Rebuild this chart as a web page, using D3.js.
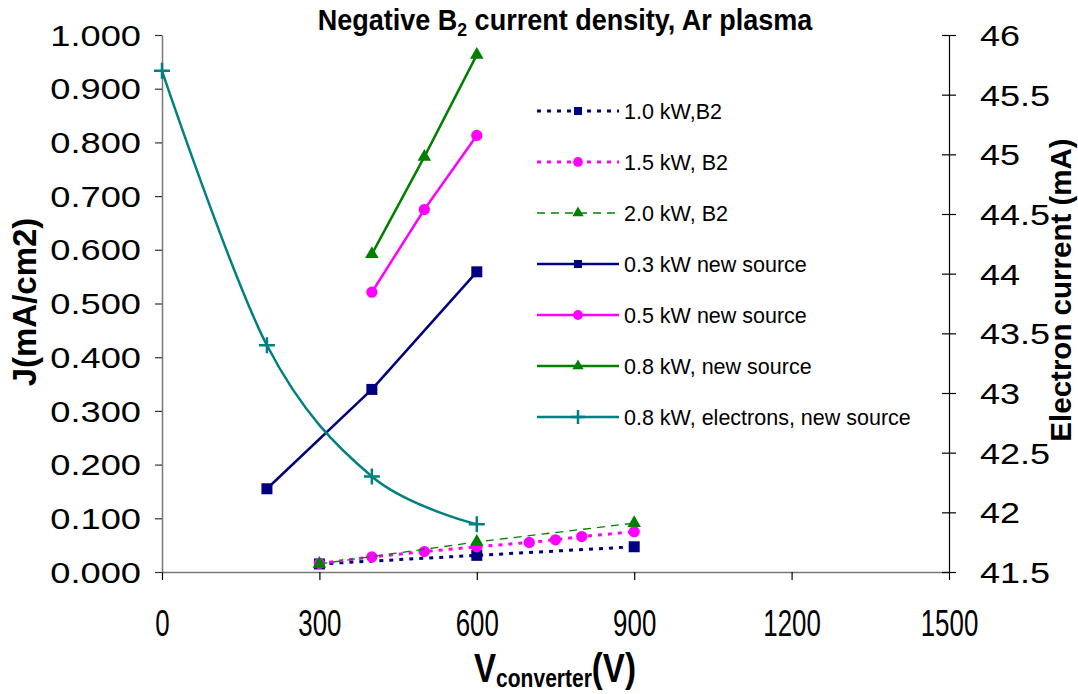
<!DOCTYPE html>
<html>
<head>
<meta charset="utf-8">
<script src="https://cdn.jsdelivr.net/npm/d3@7"></script>
<style>
  html, body { margin: 0; padding: 0; background: #fff; }
  svg { display: block; font-family: "Liberation Sans", Arial, sans-serif; }
</style>
</head>
<body>
<svg id="chart" width="1078" height="694"></svg>
<script>
// ---- data ----
const xTicks = [0, 300, 600, 900, 1200, 1500];
const yLeftTicks = [0, 0.1, 0.2, 0.3, 0.4, 0.5, 0.6, 0.7, 0.8, 0.9, 1.0];
const yRightTicks = [41.5, 42, 42.5, 43, 43.5, 44, 44.5, 45, 45.5, 46];

const vB2_10 = [300, 600, 900];
const jB2_10 = [0.015, 0.031, 0.047];
const vB2_15 = [300, 400, 500, 600, 700, 750, 800, 900];
const jB2_15 = [0.016, 0.028, 0.038, 0.047, 0.055, 0.060, 0.066, 0.075];
const vB2_20 = [300, 600, 900];
const jB2_20 = [0.015, 0.056, 0.091];
const vNew03 = [200, 400, 600];
const jNew03 = [0.155, 0.340, 0.559];
const vNew05 = [400, 500, 600];
const jNew05 = [0.521, 0.675, 0.813];
const vNew08 = [400, 500, 600];
const jNew08 = [0.592, 0.773, 0.963];
const vElec = [0, 200, 400, 600];
const iElec = [45.7, 43.4, 42.3, 41.9];

const seriesNames = [
  "1.0 kW,B2", "1.5 kW, B2", "2.0 kW, B2",
  "0.3 kW new source", "0.5 kW new source", "0.8 kW, new source",
  "0.8 kW, electrons, new source"
];

// series table: values + drawing style
const series = [
  {name: seriesNames[0], v: vB2_10, y: jB2_10, axis: "L", color: "#000080", width: 3, dash: "4,6", marker: "square"},
  {name: seriesNames[1], v: vB2_15, y: jB2_15, axis: "L", color: "#FF00FF", width: 3, dash: "4,6", marker: "circle"},
  {name: seriesNames[2], v: vB2_20, y: jB2_20, axis: "L", color: "#008000", width: 1.3, dash: "8,6", marker: "triangle"},
  {name: seriesNames[3], v: vNew03, y: jNew03, axis: "L", color: "#000080", width: 2.5, dash: null, marker: "square"},
  {name: seriesNames[4], v: vNew05, y: jNew05, axis: "L", color: "#FF00FF", width: 2.5, dash: null, marker: "circle"},
  {name: seriesNames[5], v: vNew08, y: jNew08, axis: "L", color: "#008000", width: 2.5, dash: null, marker: "triangle"},
  {name: seriesNames[6], v: vElec, y: iElec, axis: "R", color: "#008080", width: 2.5, dash: null, marker: "plus", smooth: true}
];

// ---- layout ----
const svg = d3.select("#chart");
const plot = {left: 162, right: 949, top: 35, bottom: 572};

const x = d3.scaleLinear().domain([0, 1500]).range([plot.left, plot.right]);
const yL = d3.scaleLinear().domain([0, 1]).range([plot.bottom, plot.top]);
const yR = d3.scaleLinear().domain([41.5, 46]).range([plot.bottom, plot.top]);

// ---- axes ----
const axisColor = "#777";

const gx = svg.append("g").attr("transform", `translate(0,${plot.bottom})`)
  .call(d3.axisBottom(x).tickValues(xTicks).tickSize(8).tickSizeOuter(0).tickFormat(d3.format("d")));
gx.select(".domain").attr("stroke", axisColor).attr("stroke-width", 1.5);
gx.selectAll(".tick line").attr("stroke", "#000").attr("stroke-width", 1.2);
gx.selectAll(".tick text")
  .attr("fill", "#000").attr("font-size", 37).attr("y", 0).attr("dy", 0)
  .attr("transform", "translate(0,64) scale(0.7,1)");

const gl = svg.append("g").attr("transform", `translate(${plot.left},0)`)
  .call(d3.axisLeft(yL).tickValues(yLeftTicks).tickSize(7).tickSizeOuter(0).tickFormat(d3.format(".3f")));
gl.select(".domain").attr("stroke", axisColor).attr("stroke-width", 1.5);
gl.selectAll(".tick line").attr("stroke", "#333").attr("stroke-width", 1.2);
gl.selectAll(".tick text")
  .attr("fill", "#000").attr("font-size", 29).attr("x", 0).attr("dy", "0.35em")
  .attr("transform", "translate(-21,0) scale(1.25,1)");

const gr = svg.append("g").attr("transform", `translate(${plot.right},0)`)
  .call(d3.axisRight(yR).tickValues(yRightTicks).tickSize(7).tickSizeOuter(0).tickFormat(d => String(d)));
gr.select(".domain").attr("stroke", "#000").attr("stroke-width", 1.2);
gr.selectAll(".tick line").attr("x1", -7).attr("stroke", "#000").attr("stroke-width", 1.2);
gr.selectAll(".tick text")
  .attr("fill", "#000").attr("font-size", 30).attr("x", 0).attr("dy", "0.35em")
  .attr("transform", "translate(31,0) scale(1.2,1)");
svg.selectAll(".tick text").attr("font-family", "'Liberation Sans', Arial, sans-serif");

// ---- titles ----
function fitText(sel, targetWidth) {
  const w = sel.node().getComputedTextLength();
  return targetWidth / w;
}

const title = svg.append("text")
  .attr("font-weight", "bold").attr("font-size", 29).attr("text-anchor", "middle").attr("fill", "#000");
title.append("tspan").text("Negative B");
title.append("tspan").attr("font-size", 19).attr("dy", 6).text("2");
title.append("tspan").attr("dy", -6).text(" current density, Ar plasma");
const tScale = fitText(title, 495);
title.attr("transform", `translate(565,30) scale(${tScale},1)`);

const xTitle = svg.append("text")
  .attr("font-weight", "bold").attr("font-size", 41).attr("text-anchor", "middle").attr("fill", "#000");
xTitle.append("tspan").text("V");
xTitle.append("tspan").attr("font-size", 26).attr("dy", 5).text("converter");
xTitle.append("tspan").attr("dy", -5).text("(V)");
const xtScale = fitText(xTitle, 162);
xTitle.attr("transform", `translate(555,682) scale(${xtScale},1)`);

svg.append("text")
  .attr("font-weight", "bold").attr("font-size", 33).attr("text-anchor", "middle").attr("fill", "#000")
  .attr("transform", "translate(36,302) rotate(-90)")
  .text("J(mA/cm2)");

svg.append("text")
  .attr("font-weight", "bold").attr("font-size", 29.5).attr("text-anchor", "middle").attr("fill", "#000")
  .attr("transform", "translate(1071,290) rotate(-90)")
  .text("Electron current (mA)");

// ---- markers ----
function markerPath(type, big) {
  if (type === "plus") {
    const h = big ? 8 : 7;
    return `M${-h},0H${h}M0,${-h}V${h}`;
  }
  const sizes = big
    ? {square: 121, circle: 100, triangle: 80}
    : {square: 64, circle: 75, triangle: 55};
  const sym = {square: d3.symbolSquare, circle: d3.symbolCircle, triangle: d3.symbolTriangle}[type];
  return d3.symbol(sym, sizes[type])();
}

function drawMarker(g, s, cx, cy, big) {
  const p = g.append("path")
    .attr("d", markerPath(s.marker, big))
    .attr("transform", `translate(${cx},${cy})`);
  if (s.marker === "plus") {
    p.attr("fill", "none").attr("stroke", s.color).attr("stroke-width", 2.5);
  } else {
    p.attr("fill", s.color).attr("stroke", "none");
  }
}

// ---- series ----
const linesG = svg.append("g");
series.forEach(s => {
  const yScale = s.axis === "R" ? yR : yL;
  const pts = s.v.map((v, i) => [x(v), yScale(s.y[i])]);
  const line = d3.line().curve(s.smooth ? d3.curveCardinal.tension(0) : d3.curveLinear);
  const path = linesG.append("path")
    .attr("d", line(pts))
    .attr("fill", "none")
    .attr("stroke", s.color)
    .attr("stroke-width", s.width)
    .attr("stroke-linejoin", "round");
  if (s.dash) path.attr("stroke-dasharray", s.dash);
  const mg = linesG.append("g");
  pts.forEach(p => drawMarker(mg, s, p[0], p[1], true));
});

// ---- legend ----
const legend = svg.append("g");
const legX0 = 537, legX1 = 619, legMid = 578, legText = 624;
const legY0 = 111, legStep = 51;
series.forEach((s, i) => {
  const yy = legY0 + i * legStep;
  const l = legend.append("line")
    .attr("x1", legX0).attr("x2", legX1).attr("y1", yy).attr("y2", yy)
    .attr("stroke", s.color).attr("stroke-width", s.width);
  if (s.dash) l.attr("stroke-dasharray", s.dash);
  drawMarker(legend, s, legMid, yy, false);
  legend.append("text")
    .attr("x", legText).attr("y", yy).attr("dy", "0.36em")
    .attr("font-size", 21.5).attr("fill", "#000")
    .text(s.name);
});
</script>
</body>
</html>
